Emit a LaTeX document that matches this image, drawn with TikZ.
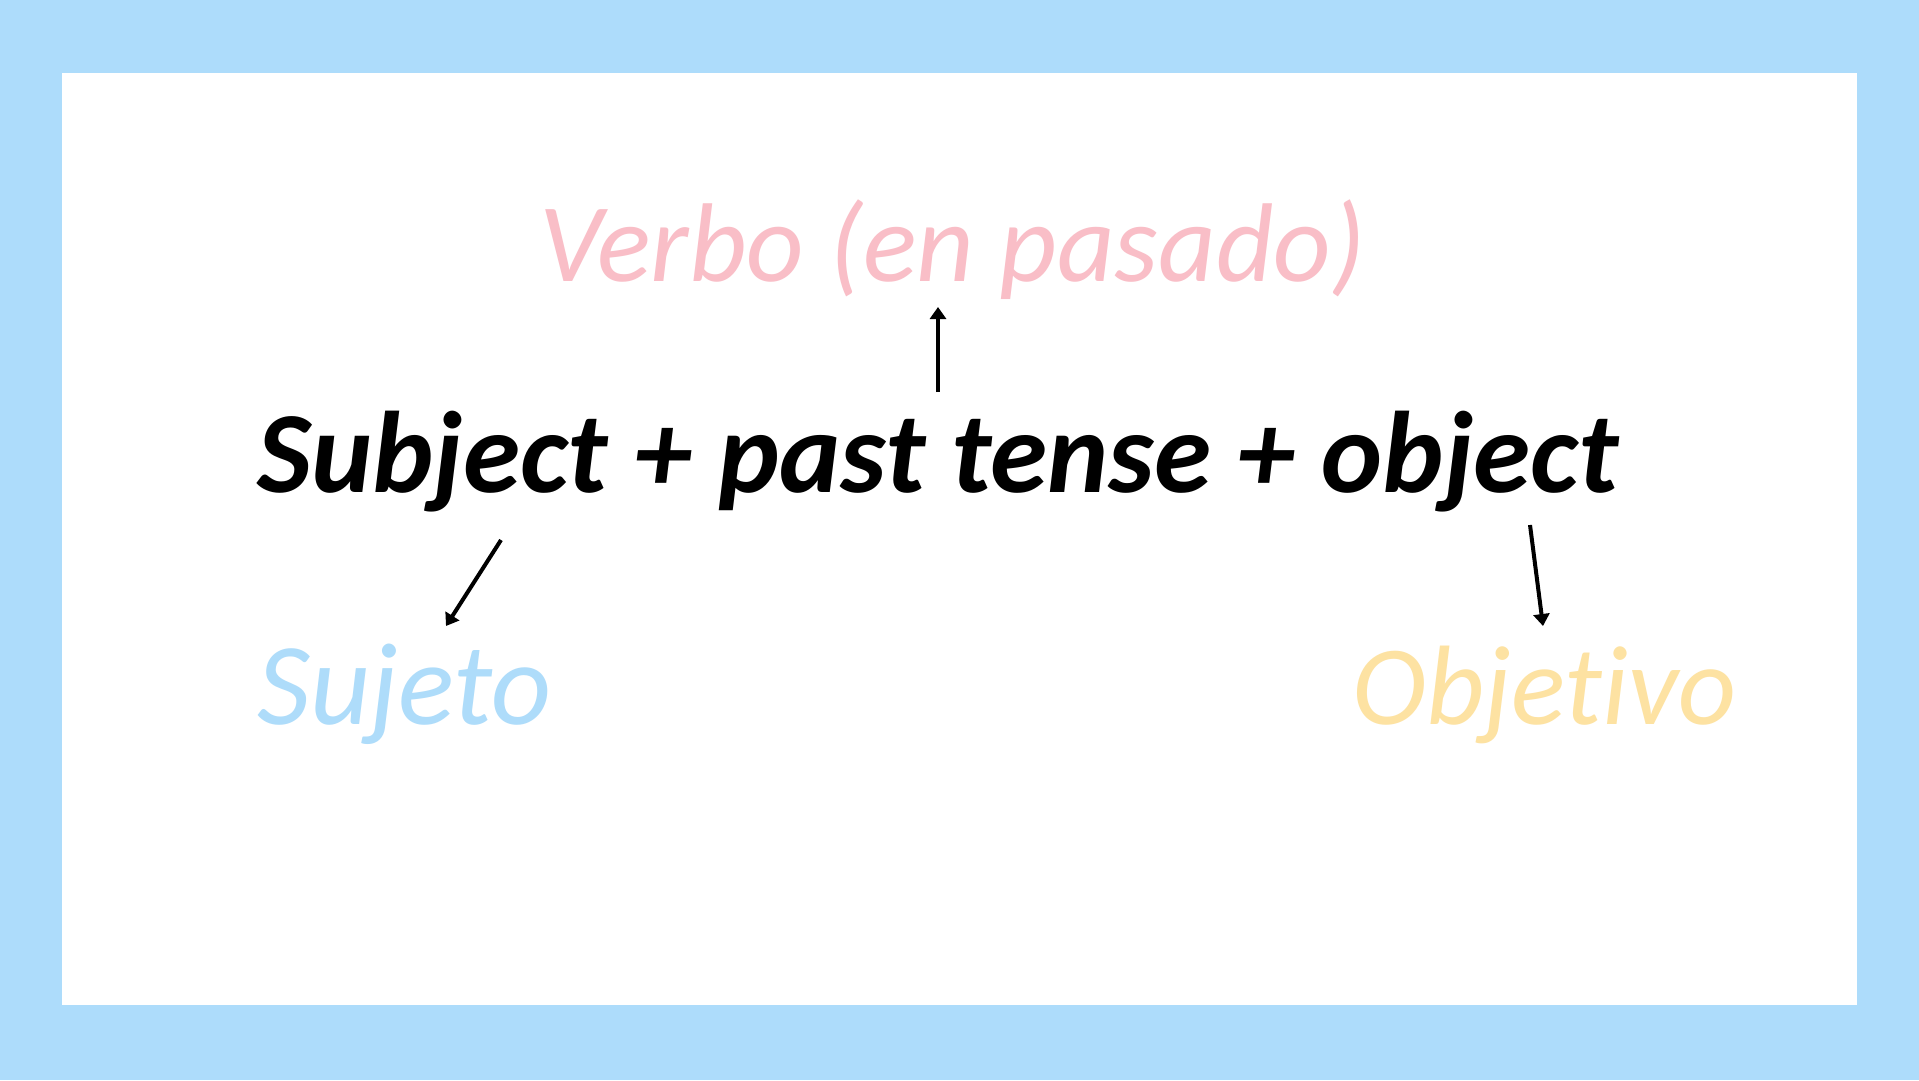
\documentclass[tikz,border=0pt]{standalone}
\usepackage{fontspec}
\setmainfont{Carlito}[Ligatures=NoCommon]
\usetikzlibrary{arrows.meta}
\definecolor{framebl}{HTML}{ADDCFB}
\definecolor{verbpink}{HTML}{F9BEC7}
\definecolor{subjblue}{HTML}{AEDCFA}
\definecolor{objyellow}{HTML}{FDE2A2}
\tikzset{
  word/.style={anchor=base west, inner sep=0pt, font=\fontsize{#1}{#1}\selectfont\itshape},
  word/.default=116,
  boldword/.style={anchor=base west, inner sep=0pt, font=\fontsize{#1}{#1}\selectfont\bfseries\itshape},
  pointer/.style={-{Triangle[length=12pt,width=16pt]}, line width=4pt, black}
}

\begin{document}
\begin{tikzpicture}[x=1pt,y=-1pt]

\fill [framebl] (0,0) rectangle (1919,1080);
\fill [white] (62,73) rectangle (1857,1005);

\node [boldword=116] (main) at (257,492) {Subject + past tense + object};
\node [word=112, text=verbpink] (verbo) at (539,281) {Verbo (en pasado)};
\node [word=117, text=subjblue] (sujeto) at (257,724) {Sujeto};
\node [word=113, text=objyellow] (objetivo) at (1352,724) {Objetivo};

\coordinate (verbtail) at (938,392);
\coordinate (verbhead) at (938,307);
\coordinate (subjtail) at (501,540);
\coordinate (subjhead) at (446,626);
\coordinate (objtail) at (1530,525);
\coordinate (objhead) at (1543,626);

\draw [pointer] (verbtail) -- (verbhead);
\draw [pointer] (subjtail) -- (subjhead);
\draw [pointer] (objtail) -- (objhead);

\end{tikzpicture}
\end{document}
